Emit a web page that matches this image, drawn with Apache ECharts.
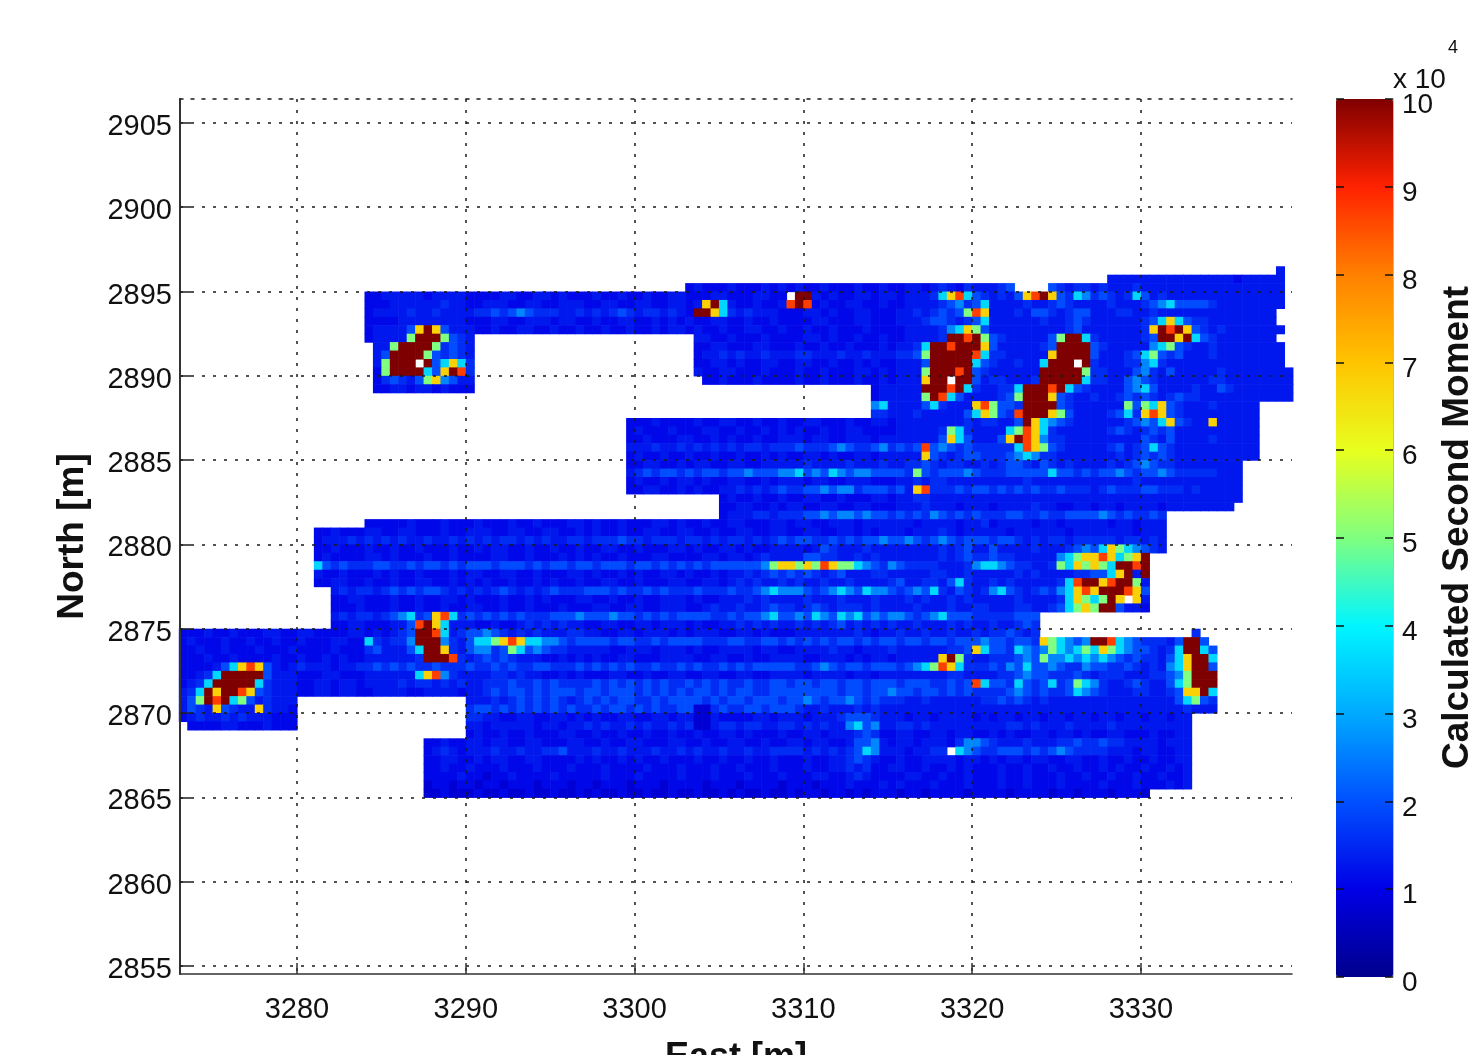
<!DOCTYPE html>
<html><head><meta charset="utf-8">
<style>html,body{margin:0;padding:0;background:#fff}#c{width:1473px;height:1055px;overflow:hidden;filter:blur(0.6px)}</style>
<script src="https://cdn.jsdelivr.net/npm/echarts@6/dist/echarts.min.js"></script>
</head><body><div id="c"></div>
<script>
// Each row is one 0.5 m strip of the survey, north to south; each character one 0.5 m cell.
var eastStart = 3273, northStart = 2896.5, cellSize = 0.5;
var eastTicks = [3280,3290,3300,3310,3320,3330];
var northTicks = [2855,2860,2865,2870,2875,2880,2885,2890,2895,2900,2905];
var levelKeys = ['z','a','b','c','d','e','f','g','h','i','j'];
var levelValues = [0.8,1.1,1.3,1.55,1.95,2.6,3.6,5,6.8,8.7,10];
var surveyRows = [
"............ ............ ............ ............ ............ ............ ............ ............ ............ ............ ..........b.",
"............ ............ ............ ............ ............ ............ ............ ............ ............ ..bbbbbbbbbb bbbbbabbbbb.",
"............ ............ ............ ............ ............ abaaabaaabab abaabaaabaab aabbabcbacbb bcd....dcbcc bcbbbcbbbbbb bbbbbbbbbbb.",
"............ ..........aa bbbbbabbbbaa aabbaabbabaa abaabaabaabb aaabbaaabbaa .jjbabaabbab babbbcfhifdc bcbdhijhdcfe cdcbcfdbcbbb bbbbbbbbbbb.",
"............ ..........aa abbbbbbcbbaa bbbaabbaabbb aabbaabbaabb abhjfbaabaab ijiabaabbaab aabbbbcdecdf bbbbcbbcdcbb bbcbbbcdefdd ddcbbbbbbbb.",
"............ ..........ab bbbcbbcbbbbc cdcdedcccbbc bcbcdcbccbcb ajjhfcbcbbba aabbabaabbaa abbcbcdcdgih bbbcbddcbcdd bbbccbbcbbbb bbbbbbbbbb..",
"............ ..........aa aabbbbbbbbaa abbaabbbabba abaabbaababa baabbaabaaba aaabbaaabbaa abbbcddcbcdf bbbbbbcbbcdc bbbbbbcdfhfd ccbbbbbbbb..",
"............ ..........ab bbbdhjhdbbba abaabbaabaab aabaabaababb abaabaabbaab aabaabaaabaa aabbbbcefhgd bbbbbbbbbcdb bbbbbbchjijh dcbcbbbbbbb.",
"............ ..........ab bbbgjjjgdcb. ............ ............ .bbaabaaabaa aabbabaabaab aabbbbcjjijg dcbbbbbdgjjf cbbbbbcdjjhj fdcbbbbbbb..",
"............ ...........b bgjjjjgcdcb. ............ ............ .aabbaaabbaa abaabaabaaab abbcfjjijjjh dbbbbbcdjjjj dcbbbbbefgdc bbcbbbbbbbb.",
"............ ...........b djjjjgdcdcb. ............ ............ .abbcbcbbcbb bccbbbcbbcbb bccdgjjjjjif ccbbbbbhjjjj dbbbcdfgdcdb bbcbbbbbbbb.",
"............ ...........b gjjj.jdfhfc. ............ ............ .aabbabaabba abbaabaababa abbbdjjjjjfd cbbcbbfjjj.j cbbbccefcbbb bbbbbbbbbbb.",
"............ ...........a gjjjjfdhjic. ............ ............ .baabbaaabaa abaabaaabbab abbbgjjjijdc bbbbbbjjjjjg ccbbbdecbdbb bbbcbbbbbbbb",
"............ ...........a cdcbdghedbb. ............ ............ ..aabaaabaaa abaabaaabaab abbbhjj.jjdb ccbbbcjjjjjf ccbbdedcbbbb bbccbbbbbbbb",
"............ ...........a abbabbabaaa. ............ ............ ............ ..........ab bbbbjjjijfcb bccfjjjijfdc bbbbdefdbbbb cbbdcbbbbbbb",
"............ ............ ............ ............ ............ ............ ..........ab bbbbgjifdbbb bcdgjjjhdcbb cbbcdcdcbcdc cbbbbbbbbbbb",
"............ ............ ............ ............ ............ ............ ..........ef bbbbdfcbbbhi gddcjjjjdcbb bbbbgdgfhdcb bbcbbbbb....",
"............ ............ ............ ............ ............ ............ ..........cc bbbcbbbbbdfh gdcijjjhgdbb bbcdfchihdcb bbbbbbbb....",
"............ ............ ............ ............ .....aaabaaa abaabbaabaab aabbaaabaabb abbbbbbbbcbc cbbdjhfedcbb bbbbcdedfhdc bbhbbbbb....",
"............ ............ ............ ............ .....abaaaba aabbaabaabab abaabaabbaaa abbbbbcgfcbb bbfgihfcbbbb bbcdcbcdcdbb bbbbbbbb....",
"............ ............ ............ ............ .....aabaaab baababaabaab bbabbaabbbab bbbbbbdhfdbb bdhjiheccbbb bbbbbbdcbdbb bbcbbbbb....",
"............ ............ ............ ............ .....bbbcbbc bcbcbcbccbcc cdcccdedccde cdcdidedcdcc cccfihgdcbbb bbcdbcdfdcbb bbbbbbbb....",
"............ ............ ............ ............ .....abaabaa baabaabaabab aabbabaabbab bbbbhdcbcddc ccdefeccbbbb bbbcbcdcdcbb bbbbbbbb....",
"............ ............ ............ ............ .....aabbaab abbaabbaabbb bbcbbbbcbbbc bbccdcbccbbc bcddcbdcbcbb bbcbcdedccbb bbbbbb......",
"............ ............ ............ ............ .....bcdcddc dcddcddeddde efdedfedeedd ddcgdcdddedc ccdddddfddcd cddedcddedcc cccbbb......",
"............ ............ ............ ............ .....abaabab babaabbaabab bbabbaabbbaa abbcbccbbbbb bbbbcbbbbbbb bbbbbcbbbbbb bbbbbb......",
"............ ............ ............ ............ .....aabbaab abaabbcbcbcd ccddedeecddd cdbhicccdcdd cdcdcdccdccc bcdcccddcccb cbbbbb......",
"............ ............ ............ ............ ............ ....abaabaab aabbaabaaabb abbccbbbbbbb bbbbbbbbbbbb bbbbbbbbbbbb bbbbbb......",
"............ ............ ............ ............ ............ ....aabbaaba bbaabbaabbaa abbbcbbbabbb abbbbcbbaabb abbabbbbabbb bbbbb.......",
"............ ............ ............ ............ ............ ....abbbccbc ccddedeededd cdcdcedcdcdc ccddccdccddd dedcdccdc... ............",
"............ ..........aa aaabaaabaaab aaabaabaaabb abaabaaabbab aabaabbaaabb abbaabbbabbb bbbabbbbabbc abbbbabbabbb bbabbabbb... ............",
"............ ....aabaaabb aabbaaabaabb baabbaabbaab abaabaabbaab baabaabbaabb aabbaabbabab bbabbbcbabbb bbabbbbbbabb bbbbbabbb... ............",
"............ ....abbbcbcb cbcbbcbbcbcb cbccbcbcbbcc bcccdccbcccb ccbcbccbcbcd cddccdcdcdde ddedcdedcddd cddcbcbccbcc cccbccbcb... ............",
"............ ....aabaaaba abaabaaabaab abbaabaabaab aabbaabaaabb abaabbabaabb bbabdcbbbcbb bbbbbbcbcdbb dbbbbcbbbcde dfhgfedcb... ............",
"............ ....abaaaabb abaaabaabaaa abbaabaaabab abaabaaabbaa aabbabbabcbb bbddccbbcbcb bbbbbbcbcdcc dccbbbbbefgh hihfghj..... ............",
"............ ....fdcdcccd dccdcddcdcdd dcdddcdcddcd dcdddcddcdcd cdcddddddegh hghgihggfedc edccccbbbcef fedccbbcgfhg hgfjjij..... ............",
"............ ....baabaaab abaabaaababb aabbaabaaabb abaababaabba baababbcbcdc dcdcbcdbbbcc bbbbbccbbcbb bbbcbcbbbbcc ddfhjbj..... ............",
"............ ....aabbaaba abaabbaababa baabaababaab aabbaabaaabb aabbabcbcbbc bcbbcbbcbbbb cdbbccbdfcbb cbcbbbbbcfij jhijjgb..... ............",
"............ ......bcbccb cdcdcddcbcbc bcdcbcbcdccc dddcdccdcdcc cdcccdccdefe eedcdefedfee dcdedfcbdcbc efdcbcdcefhi hjjjihd..... ............",
"............ ......aabbaa abaabaabbaba aabaababaaab baabaabaabbb abaabbbcbcbb bbcbbbcbbbcb bbcbcbbcbcbb bbbcbbbbcfhg fgjh.hb..... ............",
"............ ......aaabaa abaabaabaabb aabaabaaabaa abbaabbaabbb aabcbbcbbcdc cbcdcbcccbcb bbbcbbbcbbcc bbbccbbcdfgh gjjdbba..... ............",
"............ ......bcbccb cdefcdhifcdc dcdcdcccddde dddeddcdcdcd dddccdcddefd dedfedfefded eedcdefdddcc cccddd...... ............ ............",
"............ ......aabbaa abbdijhfbbba abaabcbcbcbb aabbaabbabbb abaabbcbcbcb bcbcbcdbcbcb cbbcbbbcbcbb cbbcdc...... ............ ............",
"aaabaabaaabb aabbaaaabbab abcdjjifbcdd edcbcbcbbbcc bbaabbabbbab abbbaabbabaa abbbbbbbcbab bcbbcbbcbbcb ccdcbc...... ............ c...........",
"abaaabaabaab aabaaabbaafc bccejjjecbdf fghihffeedcd dddcddccdcdd ddcccddccddc dcdcdcddcdcd dcddcddcddde ddcddchgfede jjifedcccbdj jd..........",
"aabaabaaabaa abaaaabaaacd bbbdfjjhcbde ecdgfdedccbb bbbaabbbabbb abaabbbbabba abbbbcbbabbb cbbbbbbccdhf ddcfedegfefg fhgfeddcbcfj jfd.........",
"aaabaabaaaab aabaababaabb bbbbcjjjicbc dcdcbbbaabab abaabbaaabbb baabbaabaabb bbaabbbababb abbbbbhjgcbb cccdedgeefef efedcdccbdfh jjf.........",
"aaaabdfhihdb abcbbbabbccd cdcdccdcccdc cdcdccddcccd cdcdcdccdccd cdccdcdcdddd dccdedcddcdd dcdefgihfccc dcedfddedcce ddccdcbcbefh jjd.........",
"aabcfjjjjjdb bbaaabbaaabb bbbbfhiecbbb bccbcbbaabab aaabbaabaabb aabbaabbaabb bbabbbbabbab bbbbbbbccbbb bccdeddcccdc bcccbbbccdeg jjj.........",
"abcfjjjjjfcb bbaabbabbabb bbcbccbcbcbb cccdccdcdccc cdcdcdcdcdcc dcdcdccdccdd cddcddcddcdd dcdddccdcdif ddcfdcdfcdgf ecbbcdcbbdfg jjj.........",
"bcfjhjjihdcb bbaabbabbaab bbbaabbbbabb cdcddcdcdddc ddcdddcdcdcd cddcdcddccdd ddddddcddcdd eddcddcdcdcc ccdedcdccdfe dcbbbccbbcdh hjf.........",
"bdgjijfgdbcb bb.......... ..........bb bcbcdcdcdcbc dcdcddccdcdd ddcdcddcdddc ddedcddedcdc ccbbcbbbbbbc cdcdcbcbbbbb bbbbbbbbbbdf gdc.........",
"bdcbhdcbbhcb ba.......... ..........cd dcdcdcdcdcdc cdcddcdcdccd dzzcdccddcdd dcbbcbbbcbcb bbbbbbbbbbbb bbbbbbbbbbbb bbbbbbbbbbbc bbb.........",
"abcbbcbcbbba aa.......... ..........cc bbaabbaabbab abaabbaabbab bzzbaaaabbab bbabbbcdddcb bbabbabbbbab abbabbabbabb abbabbabbabb ............",
".aaaabbaaaba aa.......... ..........bb abbbbbabbabb cbcbbcbcbbcb czzbccbccbbc cbcbcbbefdeb bccbcbbbbbbb bbccbcbbbcbb bbcbbbbbbbbb ............",
"............ ............ ..........ab aabaabaaabba abaabaabaaba abaabbabaaab aabbabbbcdca abbaabbabbaa babaabbabbab aabbaaabaabb ............",
"............ ............ .....aabaabb abbaabbaaabb aabaabbaaabb aabaabbaabaa bbabbaabddeb abbabbbaceed cbbbcbbbccdc cdccbbbbabbb ............",
"............ ............ .....abcbabb bcbbcbbccdbb bcbbcbbbcbbc bcbbcbbcbbcc ccbcbcbcdfeb bbabbcc.fedc cdddcdcdedcc ccbbbabbaabb ............",
"............ ............ .....aabbaab abbaabbaaaab abaababaabaa abaabaabaaba aabaabbcdcba abaabbbbabba babbabbaabba abaabaabaabb ............",
"............ ............ .....aabaaba aabaaabaaaba aabaaaabaaab aaabaabaaaba aabaabbcbcaa bbaabaababaa abaabaabaaba ababaabaabab ............",
"............ ............ .....aaaabaa zaabaaaabaaa aabaaabaaaab aaabaaabaaab aaabbaabcbaa aabbaabaabaa abaabaaabaab aabaabaabaab ............",
"............ ............ .....zaazaaz aazaaazaaaza azaaazaaazaa aazaaazaaaaz aaazaaabaaab abaaabaaabaa abaabaaabaaa abaaabaaabab ............",
"............ ............ .....zzazzza zzazzazzazza zazzazzazzaz zazzazazzazz azaazaazazaa azaazaaaazaa aazaaaazaaza aazaaaz..... ............"
];
var colorbarTicks = [0,1,2,3,4,5,6,7,8,9,10];
var colormap = ['#00008c','#0000e6','#0050ff','#00aaff','#00f5ff','#80ff80','#e8ff1e','#ffc400','#ff8000','#ff2200','#7f0000'];

var cells = [];
surveyRows.forEach(function (row, j) {
  var chars = row.replace(/ /g, '');
  for (var i = 0; i < chars.length; i++) {
    var k = levelKeys.indexOf(chars[i]);
    if (k >= 0) cells.push([eastStart + i * cellSize, northStart - j * cellSize, levelValues[k]]);
  }
});

var font = '"Liberation Sans", Arial, sans-serif';
var dots = {type: [3, 8], color: '#1a1a1a', width: 1.5};
var plain = function (v) { return String(v); };
var chart = echarts.init(document.getElementById('c'), null, {renderer: 'canvas'});
chart.setOption({
  animation: false,
  backgroundColor: '#fff',
  grid: [
    {left: 180, top: 99, width: 1112, height: 875, outerBoundsMode: 'none'},
    {left: 1336, top: 99, width: 57, height: 878, outerBoundsMode: 'none'}
  ],
  xAxis: [
    {gridIndex: 0, type: 'value', min: 3273.07, max: 3338.95, position: 'bottom', z: 5,
     name: 'East [m]', nameLocation: 'middle', nameGap: 66,
     nameTextStyle: {fontFamily: font, fontWeight: 'bold', fontSize: 36, color: '#111'},
     axisLine: {show: true, onZero: false, lineStyle: {color: '#333', width: 1.5}},
     axisTick: {show: true, inside: true, length: 11, customValues: eastTicks, lineStyle: {color: '#333', width: 1.5}},
     axisLabel: {show: true, customValues: eastTicks, margin: 21, fontFamily: font, fontSize: 29, color: '#111', formatter: plain},
     splitLine: {show: true, lineStyle: dots}},
    {gridIndex: 0, type: 'value', min: 3273.07, max: 3338.95, position: 'top', z: 5,
     axisLine: {show: true, onZero: false, lineStyle: dots}, axisTick: {show: false}, axisLabel: {show: false}, splitLine: {show: false}},
    {gridIndex: 1, type: 'value', min: 0, max: 1, show: false}
  ],
  yAxis: [
    {gridIndex: 0, type: 'value', min: 2854.52, max: 2906.42, position: 'left', z: 5,
     name: 'North [m]', nameLocation: 'middle', nameGap: 89,
     nameTextStyle: {fontFamily: font, fontWeight: 'bold', fontSize: 37, color: '#111'},
     axisLine: {show: true, onZero: false, lineStyle: {color: '#333', width: 2}},
     axisTick: {show: true, inside: true, length: 11, customValues: northTicks, lineStyle: {color: '#222', width: 1.5}},
     axisLabel: {show: true, customValues: northTicks, margin: 8, fontFamily: font, fontSize: 29, color: '#111',
       verticalAlign: 'top', lineHeight: 8, formatter: plain},
     splitLine: {show: true, lineStyle: dots}},
    {gridIndex: 1, type: 'value', min: 0, max: 10, interval: 1, position: 'right', z: 5,
     name: 'Calculated Second Moment', nameLocation: 'middle', nameGap: 46, nameRotate: 90,
     nameTextStyle: {fontFamily: font, fontWeight: 'bold', fontSize: 37, color: '#111', padding: [0, 0, 0, 21]},
     axisLine: {show: true, onZero: false, lineStyle: {color: '#bbb', width: 1}},
     axisTick: {show: true, inside: true, length: 8, lineStyle: {color: '#111', width: 1.5}},
     axisLabel: {show: true, margin: 9, fontFamily: font, fontSize: 28, color: '#111',
       verticalAlign: 'top', lineHeight: 13, formatter: plain},
     splitLine: {show: false}},
    {gridIndex: 1, type: 'value', min: 0, max: 10, interval: 1, position: 'left', z: 5,
     axisLine: {show: true, onZero: false, lineStyle: {color: 'transparent'}},
     axisTick: {show: true, inside: true, length: 8, lineStyle: {color: '#111', width: 1.5}},
     axisLabel: {show: false}, splitLine: {show: false}}
  ],
  visualMap: {
    type: 'continuous', min: 0, max: 10, dimension: 2, seriesIndex: 0, calculable: false,
    left: 1336, top: 99, itemWidth: 57, itemHeight: 878, padding: 0, text: ['', ''], textGap: 0, z: 1,
    inRange: {color: colormap}, hoverLink: false, realtime: false
  },
  graphic: [
    {type: 'text', left: 1393, top: 66, z: 20, style: {text: 'x 10', font: '28px ' + font, fill: '#111'}},
    {type: 'text', left: 1448, top: 39, z: 20, style: {text: '4', font: '18px ' + font, fill: '#111'}}
  ],
  series: [{
    type: 'custom',
    coordinateSystem: 'cartesian2d',
    xAxisIndex: 0, yAxisIndex: 0,
    silent: true,
    z: 2,
    clip: true,
    data: cells,
    encode: {x: 0, y: 1},
    renderItem: function (params, api) {
      var p = api.coord([api.value(0), api.value(1)]);
      var s = api.size([cellSize, cellSize]);
      return {type: 'rect', shape: {x: p[0], y: p[1], width: s[0] + 0.6, height: s[1] + 0.6},
              style: {fill: api.visual('color')}};
    }
  }]
});
</script></body></html>
